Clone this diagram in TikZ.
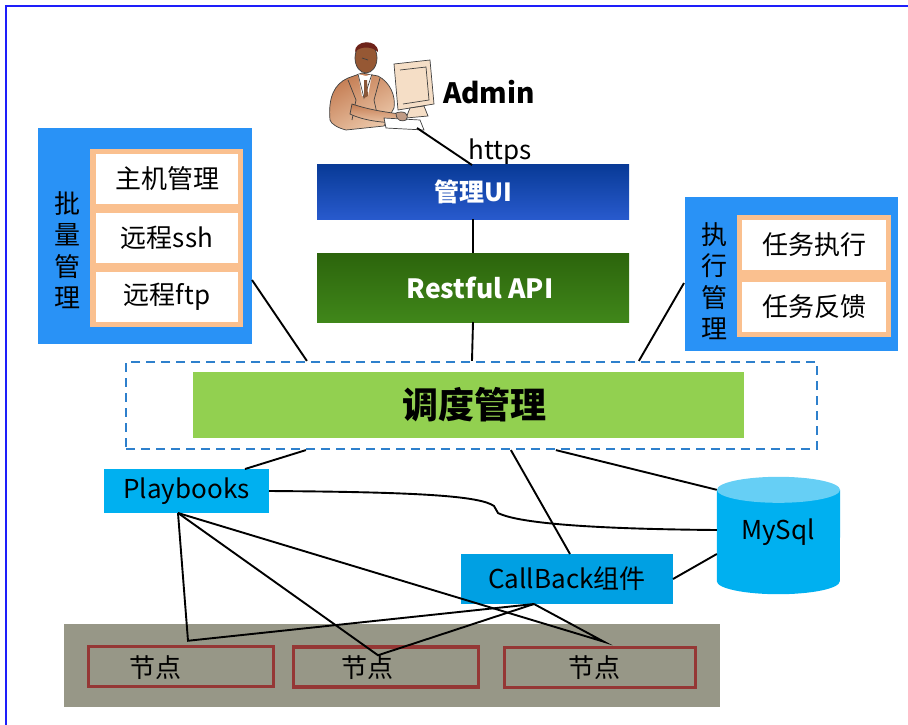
\documentclass[tikz,border=0pt]{standalone}
\usepackage{fontspec}
\setmainfont{Noto Sans CJK SC}
\usetikzlibrary{calc}

\definecolor{framebl}{RGB}{30,30,250}
\definecolor{panelbl}{RGB}{41,146,246}
\definecolor{peach}{RGB}{250,192,143}
\definecolor{pbcyan}{RGB}{0,176,240}
\definecolor{cbcyan}{RGB}{0,160,227}
\definecolor{schedgreen}{RGB}{146,208,80}
\definecolor{nodegray}{RGB}{151,151,135}
\definecolor{nodered}{RGB}{149,55,53}
\definecolor{dashbl}{RGB}{46,128,204}
\definecolor{dbtop}{RGB}{102,207,245}
\definecolor{uitop}{RGB}{8,58,150}
\definecolor{uibot}{RGB}{40,90,205}
\definecolor{apitop}{RGB}{44,100,12}
\definecolor{apibot}{RGB}{64,135,26}
\definecolor{skin}{RGB}{150,88,52}
\definecolor{suit}{RGB}{196,124,82}
\definecolor{suitlt}{RGB}{236,200,170}
\definecolor{hair}{RGB}{110,35,25}
\definecolor{monitor}{RGB}{245,222,198}

\tikzset{
  box/.style={draw=none, inner sep=0pt, outer sep=0pt},
  txt/.style={font=\fontsize{26}{30}\selectfont},
  panel/.style={box, fill=panelbl},
  inner/.style={box, fill=peach},
  item/.style={box, fill=white, txt},
  vtext/.style={align=center, font=\fontsize{26}{31.5}\selectfont, inner sep=0pt},
  cyanbox/.style={box, txt},
  nodebox/.style={draw=nodered, line width=3.5pt, inner sep=0pt, minimum width=185pt, minimum height=40pt},
  conn/.style={draw=black, line width=1.9pt},
  clip art/.style={line width=0.7pt, draw=black!75}
}

\begin{document}
\begin{tikzpicture}[x=1pt,y=-1pt]
\useasboundingbox (0,0) rectangle (908,724);

% outer frame edges
\draw[framebl, line width=2pt] (6,725) -- (6,6) -- (909,6);

% ---------- administrator at the workstation ----------
\begin{scope}
  % monitor
  \fill[monitor] (394,64) -- (430,60) -- (434,104) -- (398,110) -- cycle;
  \draw[clip art] (394,64) -- (430,60) -- (434,104) -- (398,110) -- cycle;
  \draw[clip art] (400,70) -- (426,67) -- (429,100) -- (403,104);
  \draw[clip art, fill=monitor] (410,108) -- (424,106) -- (428,116) -- (406,118) -- cycle;
  % body
  \shade[top color=suit, bottom color=suitlt, shading angle=30]
    (330,120) .. controls (328,98) and (334,84) .. (348,78)
    -- (362,73) -- (378,76) .. controls (390,82) and (396,96) .. (394,108)
    -- (384,126) -- (346,130) .. controls (338,128) and (331,124) .. (330,120) -- cycle;
  \draw[clip art]
    (330,120) .. controls (328,98) and (334,84) .. (348,78)
    -- (362,73) -- (378,76) .. controls (390,82) and (396,96) .. (394,108)
    -- (384,126) -- (346,130) .. controls (338,128) and (331,124) .. (330,120) -- cycle;
  % shirt and tie
  \fill[white] (358,74) -- (366,76) -- (372,74) -- (368,96) -- (362,96) -- cycle;
  \draw[clip art] (358,74) -- (364,98) -- (372,74);
  \fill[suit!70!black] (364,80) -- (367,80) -- (368,96) -- (364,98) -- cycle;
  \draw[clip art] (348,80) -- (356,100) -- (352,120);
  \draw[clip art] (380,78) -- (374,100) -- (378,118);
  % head
  \fill[skin] (366,58) ellipse[x radius=11pt, y radius=15pt];
  \draw[clip art] (366,58) ellipse[x radius=11pt, y radius=15pt];
  \fill[hair] (355,52) .. controls (354,40) and (378,38) .. (378,52)
     .. controls (372,46) and (360,46) .. (355,52) -- cycle;
  \draw[clip art] (362,58) -- (368,60);
  % arms and hands on the keyboard
  \shade[top color=suit, bottom color=suitlt]
    (352,104) .. controls (370,110) and (385,112) .. (400,114)
    -- (402,122) .. controls (385,124) and (362,120) .. (350,114) -- cycle;
  \draw[clip art]
    (352,104) .. controls (370,110) and (385,112) .. (400,114)
    -- (402,122) .. controls (385,124) and (362,120) .. (350,114) -- cycle;
  \draw[clip art, fill=white] (384,118) -- (420,120) -- (424,130) -- (386,128) -- cycle;
  \draw[clip art, fill=skin!60!white] (396,113) .. controls (404,110) and (410,114) .. (406,120)
     .. controls (402,122) and (396,121) .. (396,113) -- cycle;
  \coordinate (adminpc) at (417,128);
\end{scope}

\node[font=\bfseries\fontsize{28}{32}\selectfont, anchor=center] (admin) at (489,92) {Admin};
\node[font=\fontsize{26}{30}\selectfont, anchor=center, inner sep=0pt] (https) at (500,152) {https};

% ---------- web tier ----------
\node[box, minimum width=312pt, minimum height=55pt, top color=uitop, bottom color=uibot,
      text=white, font=\bfseries\fontsize{25}{30}\selectfont] (ui) at (473,191.5) {管理UI};
\node[box, minimum width=312pt, minimum height=69pt, top color=apitop, bottom color=apibot,
      text=white, font=\bfseries\fontsize{26.5}{30}\selectfont] (api) at (473,287.5) {\hspace*{14pt}Restful API};

% ---------- scheduler ----------
\node[draw=dashbl, dash pattern=on 9pt off 6pt, line width=2.2pt, inner sep=0pt,
      minimum width=691pt, minimum height=87pt] (core) at (471.5,405.5) {};
\node[box, fill=schedgreen, minimum width=551pt, minimum height=66pt,
      font=\bfseries\fontsize{36}{40}\selectfont] (sched) at (468.5,405) {\hspace*{11pt}调度管理};

% ---------- batch management panel ----------
\node[panel, minimum width=214pt, minimum height=216pt] (batch) at (145,236) {};
\node[inner, minimum width=153pt, minimum height=178pt] (batchin) at (166.5,238) {};
\node[item, minimum width=142pt, minimum height=50pt] (host) at (167,179) {主机管理};
\node[item, minimum width=142pt, minimum height=50pt] (ssh) at (167,238) {远程ssh};
\node[item, minimum width=142pt, minimum height=50pt] (ftp) at (167,297) {远程ftp};
\node[vtext] (batchlbl) at (67,250) {批\\量\\管\\理};

% ---------- execution management panel ----------
\node[panel, minimum width=213pt, minimum height=154pt] (exec) at (791.5,274) {};
\node[inner, minimum width=154pt, minimum height=122pt] (execin) at (814,276) {};
\node[item, minimum width=144pt, minimum height=50pt] (run) at (814,245) {任务执行};
\node[item, minimum width=144pt, minimum height=50pt] (fb) at (814,307) {任务反馈};
\node[vtext] (execlbl) at (714,281) {执\\行\\管\\理};

% ---------- playbooks, callback, database ----------
\node[cyanbox, fill=pbcyan, minimum width=165pt, minimum height=44pt] (pb) at (186.5,491) {Playbooks};
\node[cyanbox, fill=cbcyan, minimum width=212pt, minimum height=50pt] (cb) at (567,579) {CallBack组件};

\node[inner sep=0pt, minimum width=123pt, minimum height=117pt] (db) at (778.5,535.5) {};
\fill[pbcyan] (db.north west) ++(0,13) -- ($(db.south west)+(0,-13)$)
   arc[start angle=180, end angle=360, x radius=61.5pt, y radius=13pt]
   -- ($(db.north east)+(0,13)$) -- cycle;
\fill[dbtop] ($(db.north)+(0,13)$) ellipse[x radius=61.5pt, y radius=13pt];
\node[txt, inner sep=0pt] (dblbl) at (778,532) {MySql};

% ---------- worker nodes ----------
\node[box, fill=nodegray, minimum width=656pt, minimum height=83pt] (farm) at (392,665.5) {};
\node[nodebox] (n1) at (181,666.5) {};
\node[nodebox] (n2) at (386,667) {};
\node[nodebox, minimum width=191pt] (n3) at (600,667.5) {};
\node[txt, inner sep=0pt] (n1t) at (155,668) {节点};
\node[txt, inner sep=0pt] (n2t) at (367,668) {节点};
\node[txt, inner sep=0pt] (n3t) at (594,668) {节点};

% ---------- connectors ----------
\draw[conn] (adminpc) -- ($(ui.north)+(-1,1)$);
\draw[conn] (ui.south) -- (api.north);
\draw[conn] (api.south) -- ($(core.north)+(0.5,0)$);
\draw[conn] ($(batch.south east)+(0,-64)$) -- ($(core.north west)+(182,0)$);
\draw[conn] ($(exec.south west)+(-1,-68)$) -- ($(core.north west)+(514,0)$);
\draw[conn] ($(pb.north)+(58.5,0)$) -- ($(core.south west)+(181,0)$);
\draw[conn] ($(core.south west)+(386,0)$) -- ($(cb.north)+(3,0)$);
\draw[conn] ($(core.south west)+(431,0)$) -- ($(db.north west)+(0,13)$);
\draw[conn] (pb.east) .. controls (420,492) and (480,496) .. (494,506)
   -- (498,513) .. controls (520,524) and (600,529) .. ($(db.west)+(0,-5.5)$);
\draw[conn] (cb.east) -- ($(db.west)+(0,18.5)$);

% fan-out from playbooks and callback to every node
\coordinate (pbfan) at ($(pb.south)+(-8.5,0)$);
\coordinate (cbfan) at ($(cb.south)+(-33,0)$);
\coordinate (n1top) at ($(n1.north)+(7,-4)$);
\coordinate (n2top) at ($(n2.north)+(-8,10)$);
\coordinate (n3top) at ($(n3.north)+(4,-4)$);
\draw[conn] (pbfan) -- (n1top) -- (cbfan);
\draw[conn] (pbfan) -- (n2top) -- (cbfan);
\draw[conn] (pbfan) -- (n3top) -- (cbfan);
\end{tikzpicture}
\end{document}
